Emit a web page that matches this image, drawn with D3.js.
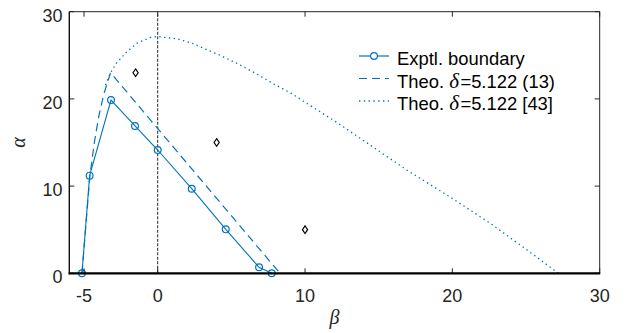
<!DOCTYPE html>
<html>
<head>
<meta charset="utf-8">
<script src="https://cdn.jsdelivr.net/npm/d3@7"></script>
<style>
  html, body { margin: 0; padding: 0; background: #fff; }
  svg { display: block; }
</style>
</head>
<body>
<svg id="chart" width="625" height="333"></svg>
<script>
// Experimental stability boundary (beta, alpha)
const exptBeta  = [-5.14, -4.62, -3.17, -1.54, 0, 2.31, 4.62, 6.88, 7.74];
const exptAlpha = [0, 11.2, 19.87, 16.9, 14.14, 9.7, 5.04, 0.69, 0];

// Theory, delta = 5.122, Eq. (13)
const theo13Beta  = [-5.14, -4.85, -4.6, -4.3, -4.0, -3.65, -3.2, 8.3];
const theo13Alpha = [0, 6.0, 11.2, 15.0, 18.0, 20.6, 23.0, 0];

// Theory, delta = 5.122, Ref. [43]
const theo43Beta  = [-3.55, -3.2, -2.8, -2.1, -1.4, -0.5, 0, 1.29, 2.31, 3.26, 4.23, 5.47, 6.67, 7.9, 9.1, 10.3, 11.7, 12.6, 16.9, 19.8, 22.6, 25.05, 27.2];
const theo43Alpha = [21.6, 23.0, 24.1, 25.4, 26.4, 27.05, 27.15, 26.9, 26.4, 25.7, 25.0, 24.0, 22.9, 21.7, 20.6, 19.3, 17.8, 16.8, 11.85, 8.8, 5.7, 2.7, 0];

// Isolated test points
const pointBeta  = [-1.5, 4, 10];
const pointAlpha = [23, 15, 5];

const xTicks = [-5, 0, 10, 20, 30];
const yTicks = [0, 10, 20, 30];

const legendLabels = ["Exptl. boundary", "Theo. ", "Theo. "];
const legendDeltaText = ["", "=5.122 (13)", "=5.122 [43]"];

const blue = "#0072BD";
const textColor = "#262626";
const font = "'Liberation Sans', Arial, sans-serif";
const serif = "'Liberation Serif', 'Times New Roman', serif";

const svg = d3.select("#chart");
const x = d3.scaleLinear().domain([-6, 30]).range([69.3, 599.7]);
const y = d3.scaleLinear().domain([0, 30]).range([273.3, 11.7]);

const [x0, x1] = x.range();
const [y0, y1] = y.range();

// Reference line at beta = 0
svg.append("line")
  .attr("x1", x(0)).attr("x2", x(0))
  .attr("y1", y(0)).attr("y2", y(30))
  .attr("stroke", "#222").attr("stroke-width", 1)
  .attr("stroke-dasharray", "3,1.5");

const line = d3.line().x(d => x(d[0])).y(d => y(d[1]));
const zip = (a, b) => a.map((v, i) => [v, b[i]]);

const plot = svg.append("g");

plot.append("path")
  .attr("d", line(zip(theo43Beta, theo43Alpha)))
  .attr("fill", "none").attr("stroke", blue)
  .attr("stroke-width", 1.3).attr("stroke-dasharray", "1.4,3.4");

plot.append("path")
  .attr("d", line(zip(theo13Beta, theo13Alpha)))
  .attr("fill", "none").attr("stroke", blue)
  .attr("stroke-width", 1.2).attr("stroke-dasharray", "8,5");

plot.append("path")
  .attr("d", line(zip(exptBeta, exptAlpha)))
  .attr("fill", "none").attr("stroke", blue)
  .attr("stroke-width", 1.1);

plot.selectAll("circle.expt")
  .data(zip(exptBeta, exptAlpha))
  .join("circle")
  .attr("class", "expt")
  .attr("cx", d => x(d[0])).attr("cy", d => y(d[1]))
  .attr("r", 3.4)
  .attr("fill", "none").attr("stroke", blue).attr("stroke-width", 1.2);

// Diamond markers
const dw = 2.6, dh = 3.8;
plot.selectAll("path.pt")
  .data(zip(pointBeta, pointAlpha))
  .join("path")
  .attr("class", "pt")
  .attr("d", d => {
    const cx = x(d[0]), cy = y(d[1]);
    return `M${cx},${cy - dh}L${cx + dw},${cy}L${cx},${cy + dh}L${cx - dw},${cy}Z`;
  })
  .attr("fill", "none").attr("stroke", "#000").attr("stroke-width", 1.2);

// Axes box with inward ticks on all four sides
const axes = svg.append("g");
const tickLen = 5;
const tickFont = 18;
xTicks.forEach(t => {
  axes.append("line").attr("x1", x(t)).attr("x2", x(t))
    .attr("y1", y0).attr("y2", y0 - tickLen)
    .attr("stroke", "#262626").attr("stroke-width", 1);
  axes.append("line").attr("x1", x(t)).attr("x2", x(t))
    .attr("y1", y1).attr("y2", y1 + tickLen)
    .attr("stroke", "#262626").attr("stroke-width", 1);
  axes.append("text").attr("x", x(t)).attr("y", 302)
    .attr("text-anchor", "middle")
    .attr("font-family", font).attr("font-size", tickFont)
    .attr("fill", textColor).text(t);
});
yTicks.forEach(t => {
  axes.append("line").attr("x1", x0).attr("x2", x0 + tickLen)
    .attr("y1", y(t)).attr("y2", y(t))
    .attr("stroke", "#262626").attr("stroke-width", 1);
  axes.append("line").attr("x1", x1).attr("x2", x1 - tickLen)
    .attr("y1", y(t)).attr("y2", y(t))
    .attr("stroke", "#262626").attr("stroke-width", 1);
  axes.append("text").attr("x", 62.5).attr("y", y(t) + 9.9)
    .attr("text-anchor", "end")
    .attr("font-family", font).attr("font-size", tickFont)
    .attr("fill", textColor).text(t);
});

axes.append("line").attr("x1", x0).attr("x2", x1).attr("y1", y1).attr("y2", y1)
  .attr("stroke", "#262626").attr("stroke-width", 1);
axes.append("line").attr("x1", x1).attr("x2", x1).attr("y1", y1).attr("y2", y0)
  .attr("stroke", "#262626").attr("stroke-width", 1);
axes.append("line").attr("x1", x0).attr("x2", x0).attr("y1", y1).attr("y2", y0 + 1)
  .attr("stroke", "#111").attr("stroke-width", 1.4);
axes.append("line").attr("x1", x0 - 0.7).attr("x2", x1 + 0.5).attr("y1", y0).attr("y2", y0)
  .attr("stroke", "#000").attr("stroke-width", 2.2);

// Axis labels
svg.append("text")
  .attr("x", (x0 + x1) / 2).attr("y", 324)
  .attr("text-anchor", "middle")
  .attr("font-family", serif).attr("font-style", "italic")
  .attr("font-size", 20).attr("fill", textColor)
  .text("β");
svg.append("text")
  .attr("transform", `translate(25,${(y0 + y1) / 2}) rotate(-90)`)
  .attr("text-anchor", "middle")
  .attr("font-family", serif).attr("font-style", "italic")
  .attr("font-size", 20).attr("fill", textColor)
  .text("α");

// Legend
const legend = svg.append("g");
const rowLineY = [56, 78.5, 101];
const lx0 = 359, lx1 = 389, tx = 397;
const styles = [null, "8,5", "1.4,3.4"];
rowLineY.forEach((ly, i) => {
  const l = legend.append("line")
    .attr("x1", lx0).attr("x2", lx1).attr("y1", ly).attr("y2", ly)
    .attr("stroke", blue).attr("stroke-width", i === 2 ? 1.3 : 1.2);
  if (styles[i]) l.attr("stroke-dasharray", styles[i]);
  if (i === 0) {
    legend.append("circle").attr("cx", (lx0 + lx1) / 2).attr("cy", ly)
      .attr("r", 3.4).attr("fill", "#fff")
      .attr("stroke", blue).attr("stroke-width", 1.2);
  }
  const t = legend.append("text").attr("x", tx).attr("y", ly + 9.3)
    .attr("font-family", font).attr("font-size", 18.4).attr("fill", "#000");
  t.append("tspan").text(legendLabels[i]);
  if (i > 0) {
    t.append("tspan").attr("font-family", serif).attr("font-style", "italic")
      .attr("font-size", 21).text("δ");
    t.append("tspan").attr("dx", 1.5).text(legendDeltaText[i]);
  }
});
</script>
</body>
</html>
